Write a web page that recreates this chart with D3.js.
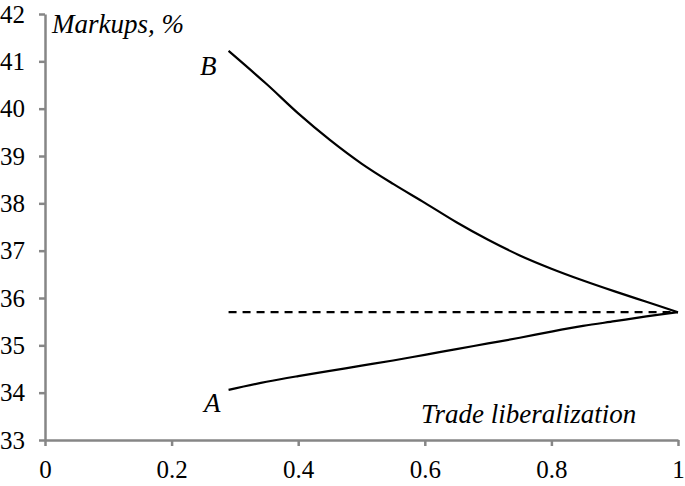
<!DOCTYPE html>
<meta charset="utf-8">
<body style="margin:0;background:#fff">
<svg width="685" height="486"></svg>
<script src="https://d3js.org/d3.v7.min.js"></script>
<script>
// trade liberalization values
var xs = [0.29, 0.35, 0.40, 0.45, 0.50, 0.55, 0.60, 0.65, 0.70, 0.75, 0.80, 0.85, 0.90, 0.95, 1.0];
// markups, %
var curveB = [41.22, 40.52, 39.90, 39.34, 38.84, 38.41, 38.01, 37.60, 37.23, 36.90, 36.62, 36.37, 36.14, 35.92, 35.70];
var curveA = [34.06, 34.23, 34.35, 34.46, 34.57, 34.68, 34.80, 34.92, 35.04, 35.16, 35.29, 35.41, 35.51, 35.61, 35.70];
var baseline = [[0.29, 35.70], [1.0, 35.70]];
var xTicks = [0, 0.2, 0.4, 0.6, 0.8, 1];
var yTicks = [33, 34, 35, 36, 37, 38, 39, 40, 41, 42];

var font = "Times New Roman";
var svg = d3.select("svg");
var x = d3.scaleLinear().domain([0, 1]).range([45, 678]);
var y = d3.scaleLinear().domain([33, 42]).range([440, 14]);

var gx = svg.append("g")
  .attr("transform", "translate(0,440)")
  .call(d3.axisBottom(x).tickValues(xTicks).tickSize(6).tickSizeOuter(0).tickPadding(14)
    .tickFormat(function(d) { return d === 0 || d === 1 ? d : d3.format(".1f")(d); }));

var gy = svg.append("g")
  .attr("transform", "translate(45,0)")
  .call(d3.axisLeft(y).tickValues(yTicks).tickSize(6).tickSizeOuter(0).tickPadding(14));

[gx, gy].forEach(function(g) {
  g.attr("font-family", font).attr("font-size", 25);
  g.select(".domain").attr("stroke", "#868686").attr("stroke-width", 2.5);
  g.selectAll(".tick line").attr("stroke", "#868686").attr("stroke-width", 2.5);
  g.selectAll(".tick text").attr("fill", "#000");
});

var line = d3.line()
  .x(function(d) { return x(d[0]); })
  .y(function(d) { return y(d[1]); })
  .curve(d3.curveCatmullRom);

svg.append("path")
  .datum(xs.map(function(v, i) { return [v, curveB[i]]; }))
  .attr("d", line).attr("fill", "none").attr("stroke", "#000").attr("stroke-width", 2.2);

svg.append("path")
  .datum(xs.map(function(v, i) { return [v, curveA[i]]; }))
  .attr("d", line).attr("fill", "none").attr("stroke", "#000").attr("stroke-width", 2.2);

svg.append("path")
  .datum(baseline)
  .attr("d", d3.line().x(function(d) { return x(d[0]); }).y(function(d) { return y(d[1]); }))
  .attr("fill", "none").attr("stroke", "#000").attr("stroke-width", 2.2)
  .attr("stroke-dasharray", "8,6");

var labels = [[52, 33, "Markups, %"], [200, 75, "B"], [204, 412, "A"], [421, 423, "Trade liberalization"]];
svg.selectAll("text.lbl").data(labels).enter().append("text")
  .attr("class", "lbl")
  .attr("x", function(d) { return d[0]; })
  .attr("y", function(d) { return d[1]; })
  .attr("font-family", font)
  .attr("font-size", 27)
  .attr("font-style", "italic")
  .text(function(d) { return d[2]; });
</script>
</body>
